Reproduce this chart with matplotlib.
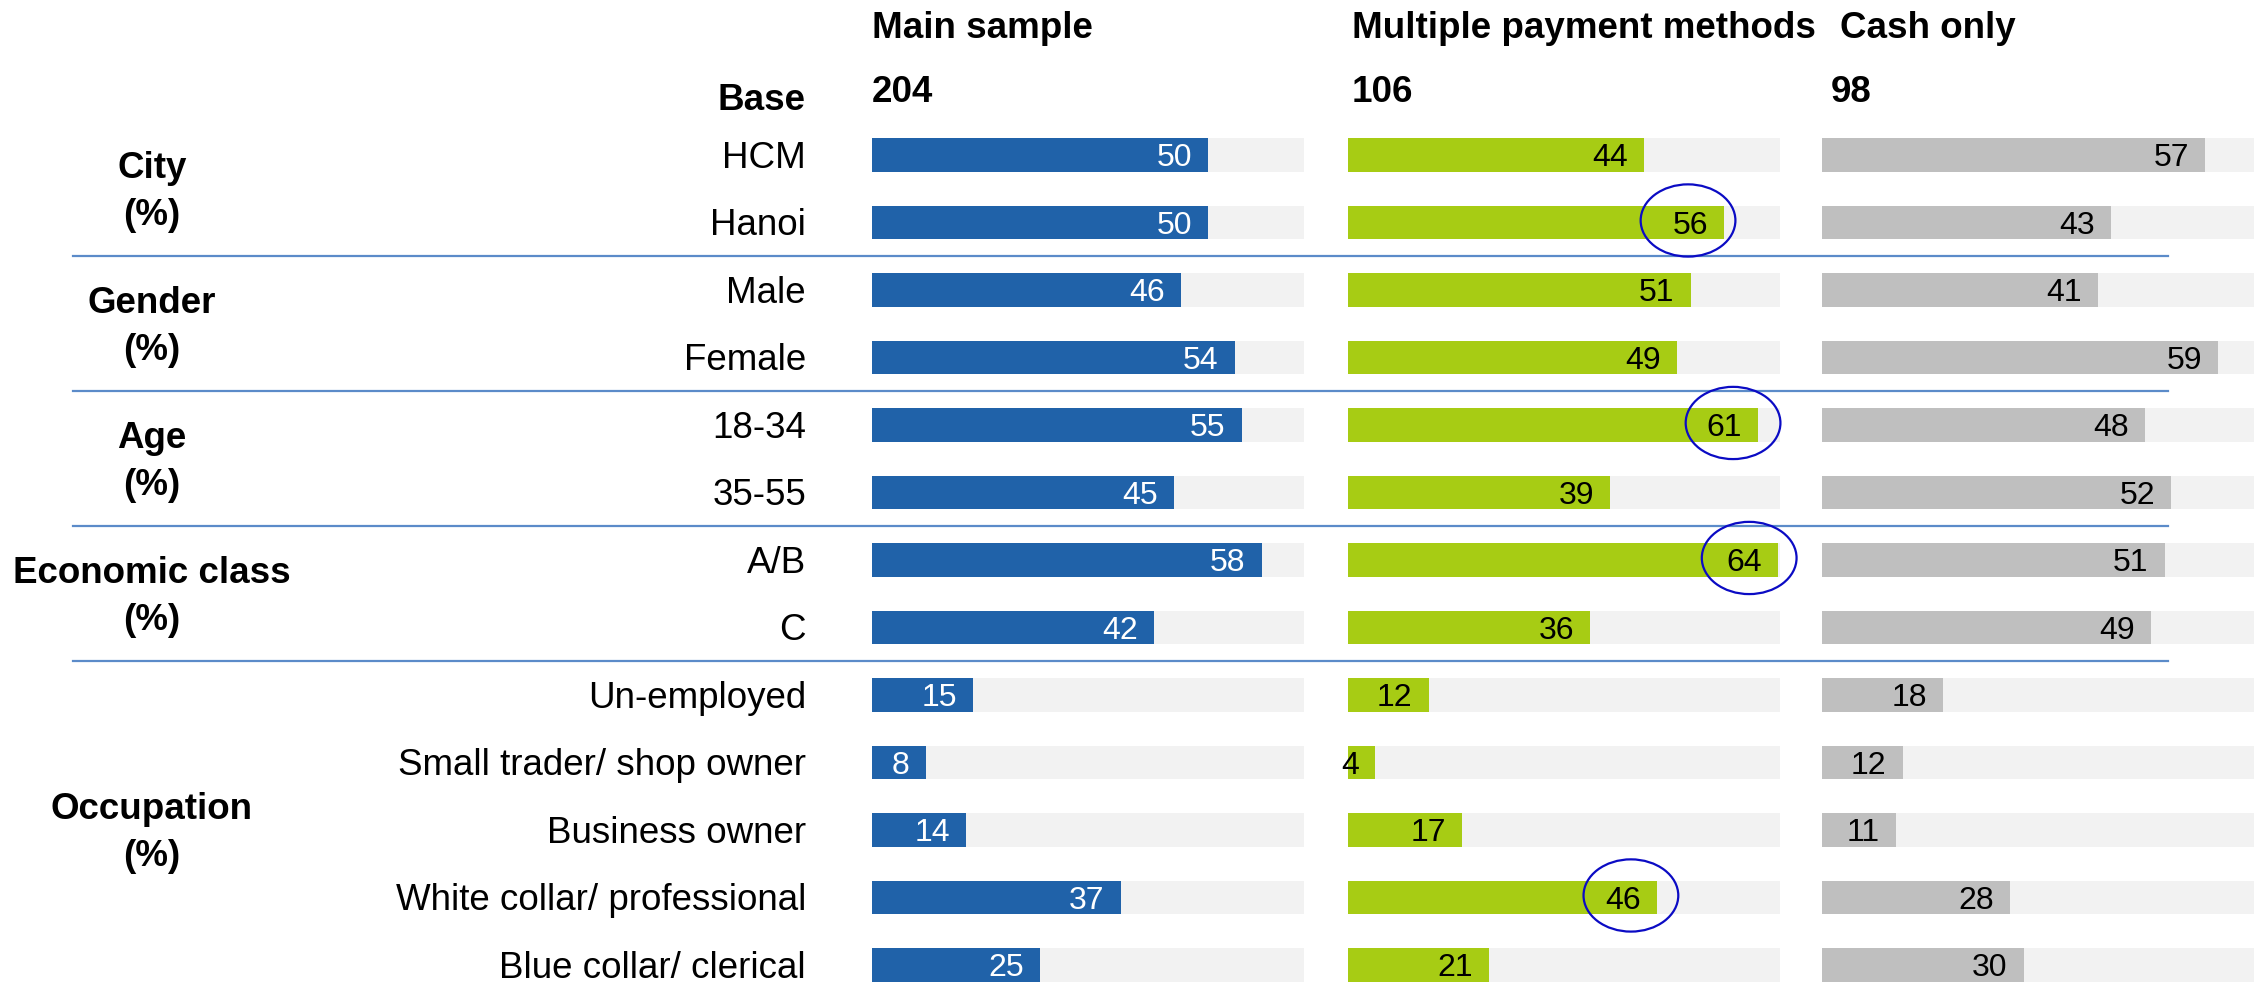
import matplotlib
matplotlib.use('Agg')
import matplotlib.pyplot as plt
from matplotlib.patches import Ellipse

plt.rcParams['font.family'] = ['Liberation Sans', 'DejaVu Sans']

# Data
rows = ['HCM', 'Hanoi', 'Male', 'Female', '18-34', '35-55', 'A/B', 'C',
        'Un-employed', 'Small trader/ shop owner', 'Business owner',
        'White collar/ professional', 'Blue collar/ clerical']
group_names = ['City', 'Gender', 'Age', 'Economic class', 'Occupation']
group_sizes = [2, 2, 2, 2, 5]
series_names = ['Main sample', 'Multiple payment methods', 'Cash only']
bases = [204, 106, 98]
main_sample = [50, 50, 46, 54, 55, 45, 58, 42, 15, 8, 14, 37, 25]
multiple_methods = [44, 56, 51, 49, 61, 39, 64, 36, 12, 4, 17, 46, 21]
cash_only = [57, 43, 41, 59, 48, 52, 51, 49, 18, 12, 11, 28, 30]
highlight_rows = [1, 4, 6, 11]  # circled values in "Multiple payment methods"

series = [main_sample, multiple_methods, cash_only]
colors = ['#2062A9', '#A7CC14', '#BFBFBF']
text_colors = ['white', 'black', 'black']
track_color = '#F2F2F2'
line_color = '#5B8BC9'
circle_color = '#0B0BC4'

# layout: one axes over the whole figure, x in percent units, y in rows
W, H = 2264, 984
px_per_unit = 6.72
x0_px = 872
row0_px, row_px = 155, 67.5

def ux(px):
    return (px - x0_px) / px_per_unit

def uy(px):
    return (px - row0_px) / row_px

fig = plt.figure(figsize=(W / 100, H / 100), dpi=100)
ax = fig.add_axes([0, 0, 1, 1])
ax.set_xlim(ux(0), ux(W))
ax.set_ylim(uy(H), uy(0))
ax.axis('off')

offsets = [ux(872), ux(1348), ux(1822)]
track_w = 64.3
bar_h = 0.5
fs_lab = 26.5
fs_val = 23
dy = 0.05  # text sits a touch below the bar centre

ys = list(range(len(rows)))
for k, vals in enumerate(series):
    off = offsets[k]
    ax.barh(ys, [track_w] * len(ys), left=off, height=bar_h, color=track_color, zorder=1)
    ax.barh(ys, vals, left=off, height=bar_h, color=colors[k], zorder=2)
    for y, v in zip(ys, vals):
        ax.text(off + v - 2.4, y + dy, str(v), ha='right', va='center',
                fontsize=fs_val, color=text_colors[k], zorder=3)

# circles around highlighted values (hand placed in the original)
circle_shift = [5.4, 3.7, 4.3, 3.9]
for r, s in zip(highlight_rows, circle_shift):
    v = multiple_methods[r]
    ax.add_patch(Ellipse((offsets[1] + v - s, r - 0.03), 14.1, 1.07, fill=False,
                         edgecolor=circle_color, lw=1.6, zorder=4))

# row labels
for y, lab in zip(ys, rows):
    ax.text(ux(806), y + dy, lab, ha='right', va='center', fontsize=fs_lab)

# group labels and separators
start = 0
for gi, (name, n) in enumerate(zip(group_names, group_sizes)):
    mid = start + (n - 1) / 2
    ax.text(ux(152), mid - 0.30, name, ha='center', va='center',
            fontsize=fs_lab, fontweight='bold')
    ax.text(ux(152), mid + 0.40, '(%)', ha='center', va='center',
            fontsize=fs_lab, fontweight='bold')
    start += n
    if gi < len(group_names) - 1:
        ax.plot([ux(73), ux(2168)], [start - 0.5, start - 0.5],
                color=line_color, lw=1.6, zorder=0)

# headers
header_x = [ux(872), ux(1352), ux(1840)]
base_x = [ux(872), ux(1352), ux(1831)]
for hx, bx, name, b in zip(header_x, base_x, series_names, bases):
    ax.text(hx, uy(29), name, ha='left', va='center', fontsize=fs_lab, fontweight='bold')
    ax.text(bx, uy(92), str(b), ha='left', va='center', fontsize=fs_lab, fontweight='bold')
ax.text(ux(806), uy(101), 'Base', ha='right', va='center', fontsize=fs_lab, fontweight='bold')

fig.savefig('out.png', dpi=100)
